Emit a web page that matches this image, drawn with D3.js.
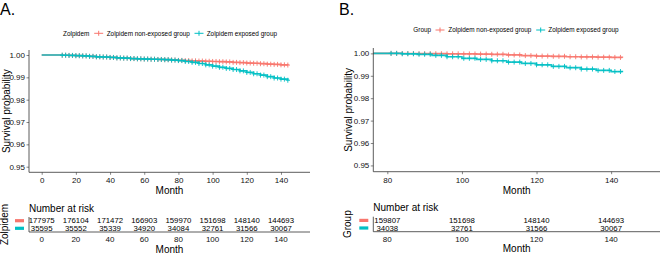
<!DOCTYPE html>
<html><head><meta charset="utf-8">
<script src="https://cdn.jsdelivr.net/npm/d3@7"></script>
<style>
html,body{margin:0;padding:0;background:#fff;}
svg{display:block;font-family:"Liberation Sans",Arial,sans-serif;}
</style></head>
<body>
<svg id="c" width="660" height="254"></svg>
<script>
// ---------------- DATA ----------------
const groupNames = ["Zolpidem non-exposed group", "Zolpidem exposed group"];
const colors = ["#F8766D", "#00BFC4"];

// Panel A: Kaplan-Meier knots (month, survival)
const monthsA = [0,12,16,20,24,28,32,36,40,44,48,52,56,60,64,68,72,76,80,84,88,92,96,100,104,108,112,116,120,124,128,132,136,140,144];
const nonExpA = [1,0.9999,0.9998,0.9997,0.9996,0.9994,0.9992,0.9991,0.9989,0.9987,0.9986,0.9984,0.9983,0.9982,0.9981,0.9980,0.9979,0.9978,0.9976,0.9975,0.9974,0.9973,0.9972,0.9971,0.9970,0.9969,0.9967,0.9966,0.9964,0.9963,0.9961,0.9959,0.9958,0.9956,0.9955];
const expA    = [1,0.9999,0.9998,0.9997,0.9996,0.9994,0.9992,0.9991,0.9989,0.9987,0.9986,0.9984,0.9983,0.9982,0.9981,0.9980,0.9979,0.9977,0.9975,0.9971,0.9967,0.9962,0.9956,0.9950,0.9945,0.9940,0.9935,0.9929,0.9922,0.9916,0.9910,0.9903,0.9897,0.9892,0.9887];
const censorA = [12,14,16,18,20,22,24,26,28,30,32,34,36,38,40,42,44,46,48,50,52,54,56,58,60,62,64,66,68,70,72,74,76,78,80,82,84,86,88,90,92,94,96,98,100,102,104,106,108,110,112,114,116,118,120,122,124,126,128,130,132,134,136,138,140,142,144];
const riskTicksA = [0,20,40,60,80,100,120,140];
const riskNonExpA = [177975,176104,171472,166903,159970,151698,148140,144693];
const riskExpA    = [35595,35552,35339,34920,34084,32761,31566,30067];

// Panel B
const monthsB = [76,80,84,88,92,96,100,104,108,112,116,120,124,128,132,136,140,143];
const nonExpB = [1,1,0.99995,0.9999,0.99985,0.9998,0.99975,0.9997,0.9996,0.9993,0.9990,0.9988,0.9987,0.9985,0.9984,0.9983,0.9982,0.9981];
const expB    = [1,1,0.9998,0.9996,0.9991,0.9985,0.9978,0.9973,0.9967,0.9961,0.9955,0.9949,0.9942,0.9936,0.9930,0.9924,0.9919,0.9916];
const censorB = [81,82.5,84,85.5,87,88.5,90,91.5,93,94.5,96,97.5,99,100.5,102,103.5,105,106.5,108,109.5,111,112.5,114,115.5,117,118.5,120,121.5,123,124.5,126,127.5,129,130.5,132,133.5,135,136.5,138,139.5,141,142.5];
const riskTicksB = [80,100,120,140];
const riskNonExpB = [159807,151698,148140,144693];
const riskExpB    = [34038,32761,31566,30067];

const yTicks = [0.95,0.96,0.97,0.98,0.99,1.00];

// ---------------- DRAW ----------------
const svg = d3.select("#c");
const axisCol = "#333";
const tickFont = 8;

function panel(o){
  const g = svg.append("g");
  const x = d3.scaleLinear().domain(o.xDom).range([o.left, o.right]);
  const y = d3.scaleLinear().domain(o.yDom).range([o.bottom, o.top]);

  // panel label
  g.append("text").attr("x", o.labelX).attr("y", 15).attr("font-size", 16).attr("fill","#000").text(o.label);

  // legend
  const lg = g.append("g").attr("font-size", 6.4).attr("fill","#000");
  lg.append("text").attr("x", o.legTitleX).attr("y", o.legY).attr("dy","0.35em").text(o.legTitle);
  o.legKeys.forEach((kx,i)=>{
    lg.append("line").attr("x1",kx-4.5).attr("x2",kx+4.5).attr("y1",o.legY).attr("y2",o.legY).attr("stroke",colors[i]).attr("stroke-width",1);
    lg.append("line").attr("x1",kx).attr("x2",kx).attr("y1",o.legY-2.5).attr("y2",o.legY+2.5).attr("stroke",colors[i]).attr("stroke-width",1);
    lg.append("text").attr("x", o.legTextX[i]).attr("y", o.legY).attr("dy","0.35em").text(groupNames[i]);
  });

  // clip
  const cid = "clip"+o.label.replace(".","");
  svg.append("clipPath").attr("id",cid).append("rect")
    .attr("x",o.left).attr("y",o.top-5).attr("width",o.right-o.left).attr("height",o.bottom-o.top+5);

  // curves
  const series = [o.nonExp, o.exp];
  const curves = g.append("g").attr("clip-path","url(#"+cid+")");
  series.forEach((vals,i)=>{
    const pts = o.months.map((m,j)=>[m, vals[j]]);
    const line = d3.line().x(d=>x(d[0])).y(d=>y(d[1])).curve(d3.curveStepAfter);
    curves.append("path").attr("d", line(pts)).attr("fill","none").attr("stroke",colors[i]).attr("stroke-width",1.7).attr("opacity",0.9);
    const bis = d3.bisector(d=>d[0]).right;
    o.censor.forEach(t=>{
      const k = Math.max(0, bis(pts, t)-1);
      const cx = x(t), cy = y(pts[k][1]);
      curves.append("path").attr("d",`M${cx-2.2},${cy}H${cx+2.2}M${cx},${cy-2.5}V${cy+2.5}`)
        .attr("stroke",colors[i]).attr("stroke-width",0.9).attr("fill","none");
    });
  });

  // axes
  const yAxis = d3.axisLeft(y).tickValues(yTicks).tickFormat(d3.format(".2f")).tickSize(2.5).tickPadding(1.5);
  const ya = g.append("g").attr("transform",`translate(${o.left},0)`).call(yAxis);
  const xAxis = d3.axisBottom(x).tickValues(o.riskTicks).tickSize(2.5).tickPadding(3);
  const xa = g.append("g").attr("transform",`translate(0,${o.bottom})`).call(xAxis);
  [ya,xa].forEach(a=>{
    a.select(".domain").remove();
    a.selectAll(".tick line").attr("stroke",axisCol).attr("stroke-width",0.6);
    a.selectAll(".tick text").attr("font-size",tickFont).attr("fill","#111").attr("font-family","Liberation Sans, Arial, sans-serif");
  });
  g.append("line").attr("x1",o.left).attr("x2",o.left).attr("y1",o.top).attr("y2",o.bottom).attr("stroke",axisCol).attr("stroke-width",0.8);
  g.append("line").attr("x1",o.left).attr("x2",o.right).attr("y1",o.bottom).attr("y2",o.bottom).attr("stroke",axisCol).attr("stroke-width",0.8);

  // axis titles
  g.append("text").attr("x",(o.left+o.xTitleRight)/2).attr("y",o.bottom+22).attr("text-anchor","middle").attr("font-size",10).text("Month");
  g.append("text").attr("transform",`translate(${o.yTitleX},${(o.top+o.bottom)/2}) rotate(-90)`).attr("text-anchor","middle").attr("font-size",10).text("Survival probability");

  // risk table
  const tb = o.tableAxisY;
  g.append("text").attr("x",o.left).attr("y",tb-24).attr("dy","0.35em").attr("font-size",10).text("Number at risk");
  const rows = [o.riskNonExp, o.riskExp];
  const rowY = [tb-11.3, tb-3.7];
  rows.forEach((r,i)=>{
    g.append("rect").attr("x",o.left-14).attr("y",rowY[i]-1.6).attr("width",9).attr("height",3.2).attr("fill",colors[i]);
    g.selectAll(null).data(r).enter().append("text")
      .attr("x",(d,j)=>x(o.riskTicks[j])).attr("y",rowY[i]).attr("dy","0.35em")
      .attr("text-anchor","middle").attr("font-size",7.8).attr("fill","#000").text(d=>d);
  });
  g.append("line").attr("x1",o.left).attr("x2",o.left).attr("y1",tb-15).attr("y2",tb).attr("stroke",axisCol).attr("stroke-width",0.8);
  g.append("line").attr("x1",o.left).attr("x2",o.right).attr("y1",tb).attr("y2",tb).attr("stroke",axisCol).attr("stroke-width",0.8);
  g.selectAll(null).data(o.riskTicks).enter().append("text")
    .attr("x",d=>x(d)).attr("y",tb+7.5).attr("dy","0.35em").attr("text-anchor","middle").attr("font-size",tickFont).attr("fill","#111").text(d=>d);
  g.append("text").attr("x",(o.left+o.xTitleRight)/2).attr("y",tb+20.5).attr("text-anchor","middle").attr("font-size",10).text("Month");
  g.append("text").attr("transform",`translate(${o.tableTitleX},${tb-7.5}) rotate(-90)`).attr("text-anchor","middle").attr("font-size",10).text(o.legTitle);
}

panel({
  label:"A.", labelX:0,
  xDom:[-7.43,156.98], left:29, right:310, xTitleRight:310,
  yDom:[0.94749,1.00224], top:50, bottom:172.3,
  months:monthsA, nonExp:nonExpA, exp:expA, censor:censorA,
  riskTicks:riskTicksA, riskNonExp:riskNonExpA, riskExp:riskExpA,
  legTitle:"Zolpidem", legTitleX:63, legY:33.3, legKeys:[98.7,199], legTextX:[106.7,206.7],
  yTitleX:10, tableAxisY:232, tableTitleX:8
});
panel({
  label:"B.", labelX:339,
  xDom:[76.24,153.1], left:373.3, right:660, xTitleRight:660,
  yDom:[0.9472,1.0024], top:48, bottom:171.7,
  months:monthsB, nonExp:nonExpB, exp:expB, censor:censorB,
  riskTicks:riskTicksB, riskNonExp:riskNonExpB, riskExp:riskExpB,
  legTitle:"Group", legTitleX:413.3, legY:30, legKeys:[440,540.7], legTextX:[448.3,548.3],
  yTitleX:352, tableAxisY:231.7, tableTitleX:351
});
</script>
</body></html>
